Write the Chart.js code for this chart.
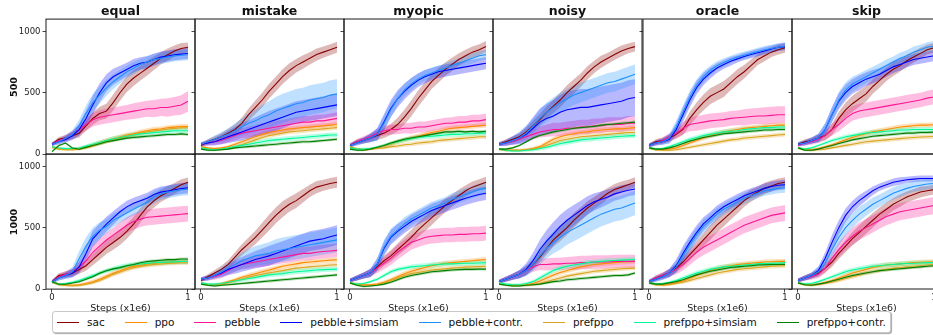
<!DOCTYPE html>
<html lang="en">
<head>
<meta charset="UTF-8">
<title>returns grid</title>
<script src="https://cdn.jsdelivr.net/npm/chart.js"></script>
<style>
  html, body { margin: 0; padding: 0; background: #fff; }
  body { width: 933px; height: 335px; overflow: hidden; position: relative; font-family: "DejaVu Sans", sans-serif; color: #111; }
  canvas { position: absolute; }
  .title { position: absolute; top: 3px; width: 149px; text-align: center; font-weight: bold; font-size: 12.5px; line-height: 16px; }
  .row { position: absolute; width: 60px; text-align: center; font-weight: bold; font-size: 9.5px; line-height: 12px; transform: rotate(-90deg); }
  #legend { position: absolute; left: 52px; top: 311px; height: 22px; box-sizing: border-box; border: 1px solid #c8c8c8; border-radius: 3px;
            box-shadow: 1px 1px 1px rgba(0,0,0,0.35); display: flex; align-items: center; padding: 0 4px; font-size: 10.5px; background: #fff; }
  #legend .item { display: flex; align-items: center; margin-right: 20px; white-space: nowrap; }
  #legend .item:last-child { margin-right: 0; }
  #legend .line { display: inline-block; width: 22px; height: 0; border-top: 1.5px solid; margin-right: 8px; }
</style>
</head>
<body>
<div id="legend"></div>
<script>
// ---- data ----
const steps = [0,0.05,0.1,0.15,0.2,0.25,0.3,0.35,0.4,0.45,0.5,0.55,0.6,0.65,0.7,0.75,0.8,0.85,0.9,0.95,1];
const envs = ['equal','mistake','myopic','noisy','oracle','skip'];
const budgets = ['500','1000'];
const algos = ['sac','ppo','pebble','pebble+simsiam','pebble+contr.','prefppo','prefppo+simsiam','prefppo+contr.'];
const colors = ['#8b0000','#ff8c00','#ff1493','#0000ff','#1e90ff','#daa520','#00fa9a','#008000'];
const xTicks = [0,1];
const yTicks = [0,500,1000];

// mean return, one row per env (equal, mistake, myopic, noisy, oracle, skip)
const sac500 = [
  [80,120,130,150,170,230,290,330,350,420,500,570,620,660,700,740,780,810,840,860,870],
  [70,100,120,140,170,200,250,320,380,440,510,570,630,680,720,750,780,810,830,850,870],
  [70,100,110,130,150,170,200,240,300,370,450,520,590,640,690,730,770,800,830,850,875],
  [80,100,120,140,180,230,280,340,390,440,500,550,600,660,710,750,780,810,840,860,875],
  [70,100,110,130,160,200,290,360,420,470,500,530,580,630,670,720,770,800,830,850,865],
  [80,100,110,130,150,200,290,360,410,450,490,550,600,650,690,720,760,790,820,850,865]
];
const sac1000 = [
  [60,110,120,130,160,190,240,290,340,380,420,470,530,600,670,720,760,790,820,850,870],
  [70,100,130,160,200,260,320,370,420,480,540,600,650,690,720,760,800,830,845,860,870],
  [70,90,110,130,180,230,270,320,370,420,480,530,580,630,680,720,760,800,830,850,870],
  [60,80,100,120,150,200,260,330,400,450,500,560,610,660,700,740,780,810,830,850,870],
  [60,90,110,130,170,220,280,340,400,460,520,570,620,670,720,760,790,820,840,860,870],
  [70,90,110,130,170,220,290,350,410,460,510,560,610,650,690,720,750,770,790,800,810]
];
const ppo500 = [
  [60,45,40,40,45,60,75,95,110,125,140,155,165,180,190,200,205,215,220,225,225],
  [60,50,45,50,60,80,100,120,140,160,175,185,195,205,210,215,220,225,230,235,240],
  [60,40,35,40,50,65,80,100,115,130,145,160,175,185,200,210,215,220,225,230,235],
  [40,30,30,30,35,45,60,90,120,140,155,165,175,180,190,195,200,205,205,210,215],
  [50,35,35,40,50,70,90,110,130,150,165,180,190,200,210,215,220,225,230,235,235],
  [50,35,35,45,60,75,95,115,135,150,165,180,190,200,210,220,225,230,235,235,238]
];
const ppo1000 = [
  [60,40,35,30,35,45,60,80,105,130,150,170,185,195,205,210,215,220,222,225,225],
  [50,35,35,45,60,75,95,110,125,140,155,170,185,195,205,215,220,225,230,235,238],
  [50,40,35,35,40,55,75,100,125,145,160,175,190,200,210,215,220,225,230,235,240],
  [50,35,30,30,35,45,65,90,115,135,150,165,180,190,200,205,210,215,220,222,225],
  [50,35,35,40,50,65,85,110,130,150,165,180,190,200,205,210,215,220,222,225,225],
  [50,35,35,40,55,70,90,110,130,145,160,175,185,195,200,205,210,215,218,220,222]
];
const pebble500 = [
  [80,110,130,160,200,240,280,300,310,320,330,340,350,360,370,370,380,380,390,400,430],
  [80,90,100,110,130,150,170,180,190,200,210,220,230,240,250,260,260,270,270,280,290],
  [70,100,120,140,170,190,200,200,210,210,220,220,230,240,250,250,260,260,270,270,280],
  [80,90,100,120,140,160,180,190,200,200,210,210,220,220,230,230,240,240,240,250,250],
  [70,90,110,140,170,210,240,250,260,270,275,280,290,295,300,305,310,310,315,320,320],
  [70,90,100,120,150,200,240,290,330,350,360,370,380,390,400,410,420,430,440,455,465]
];
const pebble1000 = [
  [60,100,120,140,180,230,300,350,400,440,480,520,550,570,585,590,595,600,605,610,615],
  [80,90,100,120,150,180,200,210,220,230,240,250,260,270,280,290,290,300,305,310,315],
  [70,90,110,130,170,210,250,300,340,380,400,420,430,435,440,440,445,445,450,450,455],
  [60,80,100,120,150,180,200,200,205,205,210,210,215,215,220,220,220,225,225,225,225],
  [60,90,110,130,160,200,250,300,340,370,400,430,460,490,520,540,560,580,600,610,620],
  [70,90,100,120,170,250,320,380,430,470,500,530,560,590,610,630,640,650,660,670,680]
];
const simsiam500 = [
  [80,100,120,150,200,290,400,500,580,630,660,690,720,740,750,770,790,800,810,815,820],
  [80,90,100,120,140,160,180,200,220,240,260,280,300,320,340,350,360,370,380,390,400],
  [70,90,110,130,160,260,370,450,510,560,600,630,650,670,680,690,700,710,720,730,740],
  [80,90,110,130,160,210,260,290,310,340,360,370,380,380,390,400,410,420,430,450,460],
  [70,90,100,120,200,320,440,540,610,660,700,730,755,775,795,810,825,840,855,870,875],
  [80,90,110,130,200,320,430,500,550,580,610,630,650,680,710,730,750,770,780,790,800]
];
const simsiam1000 = [
  [60,90,110,130,180,290,410,470,530,580,630,670,700,720,740,770,790,800,810,820,825],
  [80,90,110,130,160,180,200,220,240,255,270,290,310,330,350,370,390,400,410,425,440],
  [70,90,110,130,200,330,420,470,510,550,580,610,640,660,680,700,720,740,755,770,780],
  [60,80,100,120,160,230,320,390,450,510,560,600,640,680,710,730,750,775,790,805,815],
  [60,80,100,130,190,290,380,460,530,580,630,670,700,730,760,780,800,820,835,845,850],
  [70,90,110,150,250,380,500,600,670,720,760,800,830,850,870,880,890,895,900,900,900]
];
const contr500 = [
  [80,100,130,160,230,330,420,480,540,590,630,670,700,730,750,770,780,790,800,805,810],
  [80,100,120,140,160,190,220,250,270,300,320,350,370,390,410,420,440,450,460,480,490],
  [70,90,110,130,160,250,360,450,520,570,610,640,660,680,700,720,740,760,780,800,810],
  [80,90,110,130,170,230,290,340,380,420,450,480,500,520,540,560,580,590,610,630,650],
  [70,90,100,130,220,340,460,560,630,680,720,745,770,790,805,820,835,850,860,870,880],
  [80,90,110,130,200,320,440,520,570,600,630,660,690,720,750,780,800,830,850,870,880]
];
const contr1000 = [
  [60,90,110,140,250,350,430,480,510,560,590,620,650,680,710,750,775,790,800,810,815],
  [80,90,110,140,170,200,230,250,270,280,290,310,320,330,340,350,360,370,380,390,400],
  [70,90,110,130,200,340,430,480,530,570,600,630,660,680,700,730,750,770,790,810,820],
  [60,80,100,120,150,200,270,330,380,420,460,490,520,550,580,610,630,650,660,680,700],
  [60,80,100,130,180,270,360,440,510,560,610,650,680,710,740,760,780,800,810,820,825],
  [70,90,110,140,210,320,420,500,560,610,650,690,720,750,780,800,820,835,845,855,860]
];
const prefppo500 = [
  [55,40,35,35,40,50,65,85,100,115,130,145,155,170,180,190,195,205,210,215,215],
  [50,40,35,40,45,60,75,95,115,135,150,160,170,180,185,190,195,200,205,210,215],
  [50,40,35,40,45,50,60,65,75,80,90,95,100,110,115,120,125,130,135,140,140],
  [40,30,30,30,35,40,50,70,90,110,120,130,140,145,150,155,160,165,170,175,175],
  [50,35,30,30,35,45,55,65,75,85,95,105,115,120,130,135,140,145,150,155,160],
  [50,35,30,35,40,50,60,70,80,90,100,105,110,115,120,125,130,135,138,140,142]
];
const prefppo1000 = [
  [55,35,30,28,30,40,52,70,95,120,140,160,175,185,195,200,205,210,212,215,215],
  [50,35,30,35,50,65,80,95,110,120,130,140,150,160,170,175,180,185,190,195,198],
  [50,35,30,30,35,50,70,90,110,125,135,145,155,160,165,170,175,178,180,182,185],
  [50,35,30,30,30,35,45,60,75,90,105,115,125,135,145,150,155,160,165,168,170],
  [50,35,30,35,45,55,70,85,100,115,130,140,150,160,165,170,175,180,185,188,190],
  [50,35,30,35,45,55,70,85,100,115,130,140,150,160,170,175,180,185,190,195,200]
];
const prefsim500 = [
  [60,50,45,45,50,65,80,95,110,125,135,145,155,165,170,175,180,185,190,190,190],
  [50,40,35,40,50,60,70,80,90,100,110,115,120,125,130,135,140,145,150,155,155],
  [50,40,40,45,55,70,85,100,115,125,135,140,145,150,155,160,160,165,165,170,170],
  [40,30,25,25,30,35,45,55,70,85,95,105,115,120,125,130,135,140,145,148,150],
  [50,40,45,60,80,100,120,135,150,160,170,180,185,190,200,205,210,215,215,220,220],
  [50,40,50,70,90,110,125,140,150,160,170,175,180,185,190,195,195,200,200,200,200]
];
const prefsim1000 = [
  [60,40,45,55,70,90,110,130,150,165,180,190,200,205,210,215,218,220,222,225,225],
  [50,40,40,45,55,65,75,85,95,105,115,120,125,135,140,145,150,155,158,160,162],
  [50,40,45,60,80,110,140,160,170,180,185,190,195,200,205,205,208,210,210,212,215],
  [50,40,35,35,45,60,90,120,150,170,185,195,205,215,220,225,230,232,235,238,240],
  [50,40,45,55,70,90,110,130,145,160,170,180,185,190,195,200,205,208,210,212,215],
  [50,40,45,60,80,100,120,140,155,165,175,185,190,195,200,205,208,210,212,215,215]
];
const prefcon500 = [
  [20,70,90,50,40,55,70,85,100,110,120,130,135,140,145,150,155,160,160,165,160],
  [40,30,30,35,40,50,55,60,65,70,75,80,85,90,95,100,100,105,110,115,120],
  [40,30,30,40,55,70,90,105,120,130,140,150,160,170,180,180,185,180,185,180,185],
  [40,40,50,70,100,130,150,165,180,190,200,210,215,220,225,235,240,245,250,255,260],
  [50,40,40,50,65,85,105,120,135,145,155,165,170,175,180,185,190,195,195,200,200],
  [50,30,30,40,55,70,85,100,115,125,135,145,150,155,160,165,170,170,175,175,178]
];
const prefcon1000 = [
  [60,40,40,50,60,80,100,130,150,165,175,190,200,215,225,230,235,240,240,245,245],
  [40,30,25,30,35,40,45,50,55,60,65,70,75,80,85,90,95,100,105,110,115],
  [50,30,20,25,30,40,55,75,95,110,120,130,140,145,150,155,158,160,160,162,162],
  [40,30,25,25,30,35,40,50,60,65,75,80,85,90,95,100,105,110,110,115,130],
  [50,40,40,50,60,75,95,115,130,145,155,165,175,180,185,190,195,198,200,200,200],
  [50,35,30,40,50,65,80,95,110,120,130,140,150,155,160,165,170,175,180,185,190]
];

// spread of the shaded band (half width), same layout
const sacSd500 = [
  [15,20,25,30,35,40,50,55,60,65,65,65,65,60,60,55,50,50,45,45,40],
  [15,20,25,30,35,40,45,50,55,60,60,60,60,60,55,55,50,50,45,45,45],
  [15,20,25,30,35,40,45,55,60,65,65,65,60,60,55,55,50,50,45,45,45],
  [15,20,25,30,35,40,45,50,55,60,60,60,55,55,50,50,45,45,45,40,40],
  [15,20,25,30,35,45,55,60,65,65,65,65,60,60,55,50,45,45,40,40,40],
  [15,20,25,30,35,45,55,60,65,65,65,60,60,55,55,50,50,45,45,40,40]
];
const sacSd1000 = [
  [15,20,25,30,35,40,45,50,55,60,60,60,60,60,55,55,50,50,45,45,40],
  [15,20,25,30,35,40,45,50,55,60,65,65,65,60,60,55,50,50,45,45,45],
  [15,20,25,30,35,40,45,50,55,60,60,60,60,55,55,50,50,45,45,45,45],
  [15,20,25,30,35,40,45,50,55,60,60,60,55,55,50,50,45,45,45,40,40],
  [15,20,25,30,35,40,45,50,55,60,60,60,55,55,50,50,45,45,45,40,40],
  [15,20,25,30,35,40,45,50,55,60,60,60,55,55,50,50,45,45,45,40,40]
];
const pebbleSd500 = [
  [15,20,25,30,40,50,55,60,60,60,60,60,65,65,65,70,70,75,75,80,85],
  [15,20,25,30,35,40,40,45,45,50,50,50,50,50,50,50,50,50,50,50,50],
  [15,20,25,30,35,40,40,40,40,45,45,45,45,45,45,50,50,50,50,50,50],
  [15,20,25,30,35,40,45,50,55,55,55,60,60,60,60,60,60,60,60,60,60],
  [15,20,25,30,40,50,55,60,60,60,60,60,60,60,65,65,65,70,70,70,70],
  [15,20,25,30,40,50,55,60,60,60,60,60,60,60,60,60,60,60,60,60,60]
];
const pebbleSd1000 = [
  [15,20,25,30,40,50,55,60,60,60,65,65,65,65,65,65,65,65,65,65,65],
  [15,20,25,30,35,40,40,45,45,50,50,50,50,55,55,55,55,55,55,55,55],
  [15,20,25,30,40,50,55,60,60,60,60,60,60,60,60,60,60,60,60,60,60],
  [15,20,25,30,35,40,45,50,50,50,50,55,55,55,55,55,55,55,55,55,55],
  [15,20,25,30,40,50,55,60,65,65,65,65,65,65,65,65,65,65,65,65,65],
  [15,20,25,30,40,50,60,65,70,70,70,70,70,70,70,70,70,70,70,70,70]
];
const simsiamSd500 = [
  [15,20,25,35,50,65,75,75,70,65,60,55,55,50,50,50,45,45,45,45,45],
  [15,20,30,40,50,60,70,75,80,85,90,90,90,90,90,90,90,90,90,90,90],
  [15,20,25,35,50,65,70,70,65,60,55,55,50,50,50,50,50,50,50,50,50],
  [15,25,35,50,70,90,110,120,130,140,150,150,150,150,150,150,150,150,150,150,150],
  [15,20,25,35,50,60,60,55,50,45,40,35,35,30,30,30,30,30,30,30,30],
  [15,20,25,35,50,60,65,65,60,60,55,55,50,50,50,50,45,45,45,45,45]
];
const simsiamSd1000 = [
  [15,20,25,35,50,60,65,65,60,55,50,50,45,45,45,45,45,45,45,45,45],
  [15,20,25,35,45,55,60,65,70,75,80,80,80,80,80,80,80,80,80,80,80],
  [15,20,25,35,50,60,60,60,55,55,55,55,55,55,55,55,55,55,55,55,55],
  [15,20,25,35,50,65,80,90,95,95,90,85,80,75,70,65,60,55,55,50,50],
  [15,20,25,35,50,60,60,60,55,50,50,45,45,45,40,40,40,40,40,40,40],
  [15,20,25,35,50,60,60,55,50,45,40,35,30,30,30,30,25,25,25,25,25]
];
const contrSd500 = [
  [15,20,25,35,50,65,70,70,65,60,55,50,50,45,45,45,45,45,45,45,45],
  [15,20,30,40,50,60,70,80,90,100,110,115,120,120,120,120,120,120,120,120,120],
  [15,20,25,35,50,60,60,55,50,50,45,45,45,40,40,40,40,40,40,40,40],
  [15,20,30,40,50,60,70,80,80,80,80,80,80,80,80,80,80,80,80,80,80],
  [15,20,25,35,50,55,55,50,45,40,35,35,30,30,30,30,30,30,30,30,30],
  [15,20,25,35,50,60,65,65,60,55,55,50,50,50,45,45,45,45,40,40,40]
];
const contrSd1000 = [
  [15,20,25,40,60,70,70,65,60,55,50,50,50,50,50,50,50,50,50,50,50],
  [15,20,25,35,45,55,65,75,80,85,90,95,100,100,100,100,100,100,100,100,100],
  [15,20,25,35,50,60,60,55,55,50,50,50,50,50,50,50,50,50,50,50,50],
  [15,20,25,35,45,55,70,80,90,100,100,100,100,100,100,100,100,100,100,100,100],
  [15,20,25,35,50,60,60,55,55,50,50,45,45,45,45,40,40,40,40,40,40],
  [15,20,25,35,50,60,65,65,60,60,55,55,50,50,50,50,45,45,45,45,45]
];
// the low curves have a similar narrow band everywhere
const ppoSd = [10,10,10,10,12,14,16,18,20,20,20,20,20,20,20,20,20,20,20,20,20];
const prefppoSd = [10,10,10,10,10,12,14,15,16,17,18,18,18,18,18,18,18,18,18,18,18];
const prefsimSd = [10,10,10,10,12,14,16,18,18,20,20,20,20,20,20,20,20,20,20,20,20];
const prefconSd = [8,8,8,8,8,10,10,12,12,12,12,12,12,12,12,12,12,12,12,12,12];

// lookup tables built from the arrays above
const meanTable = [
  [sac500, sac1000], [ppo500, ppo1000], [pebble500, pebble1000], [simsiam500, simsiam1000],
  [contr500, contr1000], [prefppo500, prefppo1000], [prefsim500, prefsim1000], [prefcon500, prefcon1000]
];
const sdTable = [
  [sacSd500, sacSd1000], [ppoSd, ppoSd], [pebbleSd500, pebbleSd1000], [simsiamSd500, simsiamSd1000],
  [contrSd500, contrSd1000], [prefppoSd, prefppoSd], [prefsimSd, prefsimSd], [prefconSd, prefconSd]
];

// ---- layout ----
const colLeft = [46, 195, 344, 493, 643, 792];
const rowTop = [19, 154];
const panelW = 149, panelH = 135;
const FONT = 'DejaVu Sans';
Chart.defaults.font.family = FONT;

function rgba(hex, a) {
  const n = parseInt(hex.slice(1), 16);
  return `rgba(${n >> 16},${(n >> 8) & 255},${n & 255},${a})`;
}

const framePlugin = {
  id: 'frame',
  afterDatasetsDraw(chart) {
    const { ctx, chartArea: a } = chart;
    ctx.save();
    ctx.strokeStyle = '#1a1a1a';
    ctx.lineWidth = 1;
    ctx.strokeRect(a.left, a.top, a.right - a.left, a.bottom - a.top);
    ctx.restore();
  }
};

function panelDatasets(r, c) {
  const out = [];
  algos.forEach((name, k) => {
    const m = meanTable[k][r][c];
    const sdSrc = sdTable[k][r];
    const s = Array.isArray(sdSrc[0]) ? sdSrc[c] : sdSrc;
    const col = colors[k];
    out.push({
      data: steps.map((x, i) => ({ x, y: m[i] + s[i] })),
      borderWidth: 0, pointRadius: 0, fill: '+1',
      backgroundColor: rgba(col, 0.28), order: 30 - k
    });
    out.push({
      data: steps.map((x, i) => ({ x, y: m[i] - s[i] })),
      borderWidth: 0, pointRadius: 0, fill: false, order: 30 - k
    });
    out.push({
      label: name,
      data: steps.map((x, i) => ({ x, y: m[i] })),
      borderColor: col, borderWidth: 1.1, pointRadius: 0, fill: false, order: 10 - k
    });
  });
  return out;
}

function makePanel(r, c) {
  const L = c === 0 ? 46 : 6, R = 6, T = 4;
  const B = r === 1 ? 28 : 2;
  const bottomRow = r === budgets.length - 1;
  const cv = document.createElement('canvas');
  cv.width = L + panelW + R;
  cv.height = T + panelH + B;
  document.body.appendChild(cv);

  const tickGrid = { drawOnChartArea: false, drawTicks: true, tickLength: 3.5, color: '#1a1a1a', lineWidth: 0.8 };
  const chart = new Chart(cv, {
    type: 'line',
    data: { datasets: panelDatasets(r, c) },
    options: {
      responsive: false,
      maintainAspectRatio: false,
      animation: false,
      events: [],
      layout: { autoPadding: false, padding: { left: 0, top: T, right: R, bottom: 0 } },
      plugins: { legend: { display: false }, tooltip: { enabled: false } },
      scales: {
        x: {
          type: 'linear', min: -0.0441, max: 1.0515,
          afterBuildTicks: s => { s.ticks = xTicks.map(v => ({ value: v })); },
          afterFit: s => { s.height = B; },
          grid: bottomRow ? tickGrid : { display: false, drawTicks: false },
          border: { display: false },
          ticks: { display: bottomRow, padding: 0, color: '#222', font: { size: 8.5 }, maxRotation: 0, callback: v => String(v) },
          title: { display: bottomRow, text: 'Steps (x1e6)', color: '#222', font: { size: 9.5 }, padding: { top: 0, bottom: 3 } }
        },
        y: {
          type: 'linear', min: 0, max: 1100,
          afterBuildTicks: s => { s.ticks = yTicks.map(v => ({ value: v })); },
          afterFit: s => { s.width = L; },
          grid: tickGrid,
          border: { display: false },
          ticks: { display: c === 0, padding: 2, color: '#222', font: { size: 8.5 }, callback: v => String(v) }
        }
      }
    },
    plugins: [framePlugin]
  });

  // make the plot area exactly panelW x panelH, then pin it to the grid
  let a = chart.chartArea;
  const dw = panelW - (a.right - a.left), dh = panelH - (a.bottom - a.top);
  if (Math.abs(dw) > 0.5 || Math.abs(dh) > 0.5) {
    chart.resize(cv.width + dw, cv.height + dh);
    a = chart.chartArea;
  }
  cv.style.left = (colLeft[c] - a.left) + 'px';
  cv.style.top = (rowTop[r] - a.top) + 'px';
}

for (let r = 0; r < budgets.length; r++) {
  for (let c = 0; c < envs.length; c++) makePanel(r, c);
}

// column titles and row labels
envs.forEach((name, c) => {
  const d = document.createElement('div');
  d.className = 'title';
  d.style.left = colLeft[c] + 'px';
  d.textContent = name;
  document.body.appendChild(d);
});
budgets.forEach((name, r) => {
  const d = document.createElement('div');
  d.className = 'row';
  const cy = rowTop[r] + panelH / 2;
  d.style.left = (13.5 - 30) + 'px';
  d.style.top = (cy - 6) + 'px';
  d.textContent = name;
  document.body.appendChild(d);
});

// legend
const legend = document.getElementById('legend');
legend.innerHTML = algos.map((name, k) =>
  `<span class="item"><span class="line" style="border-color:${colors[k]}"></span>${name}</span>`
).join('');
</script>
</body>
</html>
